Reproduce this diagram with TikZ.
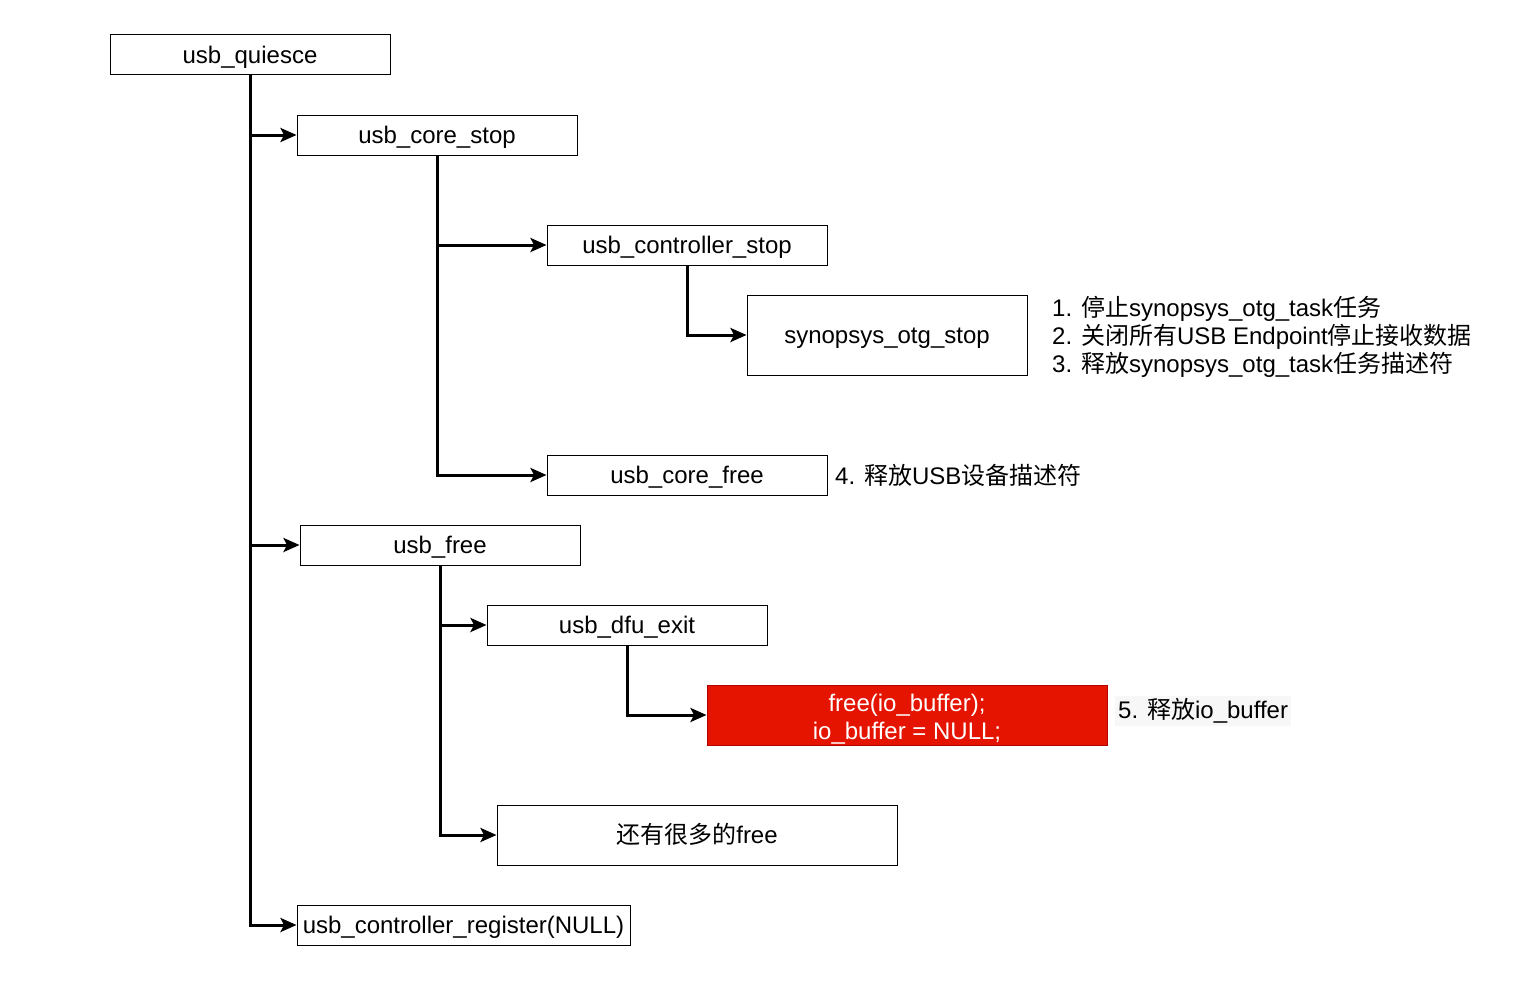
\documentclass[tikz,border=0pt]{standalone}
\usepackage{fontspec}
\setmainfont{Liberation Sans}
\newfontfamily\cjk{Noto Sans CJK SC}
\newcommand{\zh}[1]{{\cjk #1}}
\usetikzlibrary{arrows.meta}
\definecolor{redfill}{HTML}{E51400}
\definecolor{redline}{HTML}{B20000}
\begin{document}
\begin{tikzpicture}[x=1pt,y=-1pt,
  every node/.style={font=\fontsize{24}{28}\selectfont},
  box/.style={draw=black,line width=1pt,fill=white,minimum width=280pt,minimum height=40pt,inner sep=2pt},
  single/.style={text height=20pt,text depth=3pt},
  link/.style={line width=3pt,-{Stealth[length=16pt,width=14pt,inset=3.5pt]}},
  note/.style={anchor=west,align=left,inner sep=0pt}]
\useasboundingbox (0,0) rectangle (1519,982);
\node[box,single] (q) at (250,55) {usb\_quiesce};
\node[box,single] (cs) at (437,135) {usb\_core\_stop};
\node[box,single] (ctl) at (687,245) {usb\_controller\_stop};
\node[box,single,minimum height=80pt] (syn) at (887,335) {synopsys\_otg\_stop};
\node[box,single] (cf) at (687,475) {usb\_core\_free};
\node[box,single] (uf) at (440,545) {usb\_free};
\node[box,single] (dfu) at (627,625) {usb\_dfu\_exit};
\node[box,draw=redline,fill=redfill,text=white,minimum width=400pt,minimum height=60pt,inner ysep=0pt,align=center] (io) at (907,715) {\rule{0pt}{25pt}free(io\_buffer);\\io\_buffer = NULL;};
\node[box,single,minimum width=400pt,minimum height=60pt] (more) at (697,835) {\zh{还有很多的}free};
\node[box,single,minimum width=333pt] (reg) at (463.5,925) {usb\_controller\_register(NULL)};
% trunks
\draw[link] (q.south) -- (q.south |- reg.west) -- (reg.west);
\draw[link] (q.south |- cs.west) -- (cs.west);
\draw[link] (q.south |- uf.west) -- (uf.west);
\draw[link] (cs.south) -- (cs.south |- cf.west) -- (cf.west);
\draw[link] (cs.south |- ctl.west) -- (ctl.west);
\draw[link] (ctl.south) -- (ctl.south |- syn.west) -- (syn.west);
\draw[link] (uf.south) -- (uf.south |- more.west) -- (more.west);
\draw[link] (uf.south |- dfu.west) -- (dfu.west);
\draw[link] (dfu.south) -- (dfu.south |- io.west) -- (io.west);
% notes
\node[note,yshift=-2pt] (n1) at (1052,335) {1. \zh{停止}synopsys\_otg\_task\zh{任务}\\2. \zh{关闭所有}USB Endpoint\zh{停止接收数据}\\3. \zh{释放}synopsys\_otg\_task\zh{任务描述符}};
\node[note] (n4) at (835,475) {4. \zh{释放}USB\zh{设备描述符}};
\node[note,fill=black!3,inner sep=3pt,yshift=-1pt] (n5) at (1115,710) {5. \zh{释放}io\_buffer};
\end{tikzpicture}
\end{document}
